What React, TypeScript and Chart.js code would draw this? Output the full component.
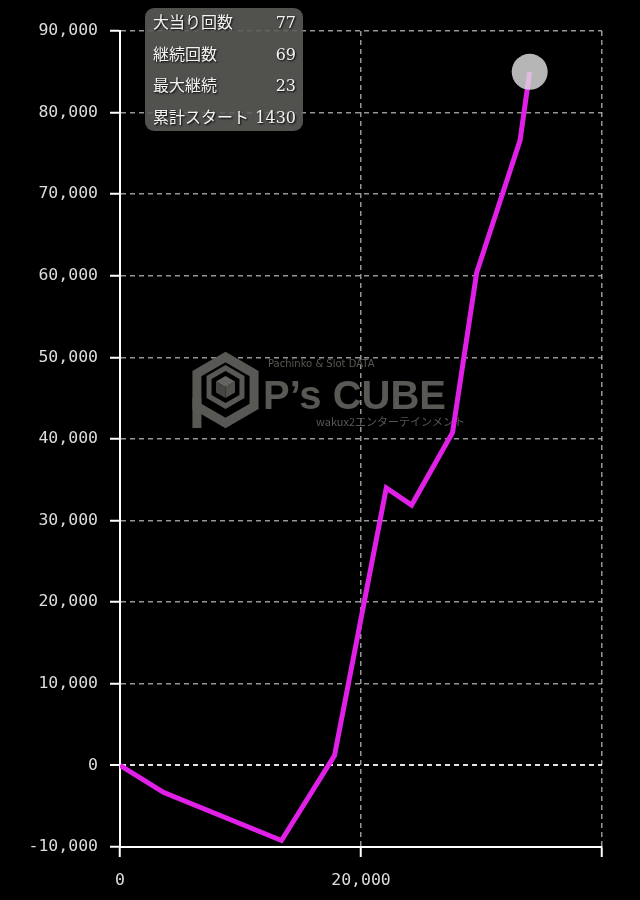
import { useEffect, useRef } from "react";
import { Chart, registerables } from "chart.js";

Chart.register(...registerables);

// Data (x: cumulative spins, y: balance)
const xValues = [0, 3600, 13400, 17800, 22100, 24200, 27600, 29600, 33200, 34000];
const yValues = [0, -3300, -9200, 1200, 34000, 31900, 40800, 60400, 76600, 85000];

const xMin = 0;
const xMax = 40000;
const xStep = 20000;
const yMin = -10000;
const yMax = 90000;
const yStep = 10000;

const infoLabels = ["大当り回数", "継続回数", "最大継続", "累計スタート"];
const infoValues = ["77", "69", "23", "1430"];

const watermarkTop = "Pachinko & Slot DATA";
const watermarkMain = "P’s CUBE";
const watermarkSub = "wakux2エンターテインメント";

const fmt = (v: number) => Number(v).toLocaleString("en-US");

const watermarkPlugin = {
  id: "watermark",
  beforeDatasetsDraw(chart: any) {
    const ctx: CanvasRenderingContext2D = chart.ctx;
    const color = "rgb(88,88,84)";
    ctx.save();
    const cx = 225.5;
    const cy = 390;
    const r = 33;
    const hex = (rad: number, ox: number, oy: number) => {
      ctx.beginPath();
      for (let i = 0; i < 6; i++) {
        const a = (Math.PI / 180) * (60 * i - 90);
        const px = ox + rad * Math.cos(a);
        const py = oy + rad * Math.sin(a);
        if (i === 0) ctx.moveTo(px, py);
        else ctx.lineTo(px, py);
      }
      ctx.closePath();
    };
    ctx.strokeStyle = color;
    ctx.lineWidth = 9;
    ctx.lineJoin = "miter";
    hex(r, cx, cy);
    ctx.stroke();
    ctx.lineWidth = 5;
    hex(19, cx, cy - 3);
    ctx.stroke();
    const cr = 11;
    const ccx = cx;
    const ccy = cy - 3;
    const pt = (i: number) => {
      const a = (Math.PI / 180) * (60 * i - 90);
      return [ccx + cr * Math.cos(a), ccy + cr * Math.sin(a)];
    };
    const faces: [number[], string][] = [
      [[0, 1, -1, 5], "rgb(100,100,96)"],
      [[1, 2, 3, -1], "rgb(80,80,76)"],
      [[3, 4, 5, -1], "rgb(70,70,66)"],
    ];
    faces.forEach(([idx, col]) => {
      ctx.beginPath();
      idx.forEach((k, j) => {
        const p = k < 0 ? [ccx, ccy] : pt(k);
        if (j === 0) ctx.moveTo(p[0], p[1]);
        else ctx.lineTo(p[0], p[1]);
      });
      ctx.closePath();
      ctx.fillStyle = col;
      ctx.fill();
    });
    ctx.fillStyle = color;
    ctx.fillRect(cx - r * 0.866 - 4.5, cy + 8, 9, 30);

    ctx.fillStyle = color;
    ctx.textBaseline = "alphabetic";
    ctx.textAlign = "left";
    ctx.font = '10px "DejaVu Sans"';
    ctx.fillText(watermarkTop, 268, 367);
    ctx.font = 'bold 40px "Liberation Sans"';
    ctx.fillText(watermarkMain, 263, 409);
    ctx.font = '11px "Noto Sans CJK JP"';
    ctx.fillText(watermarkSub, 316, 426);
    ctx.restore();
  },
};

export default function App() {
  const canvasRef = useRef<HTMLCanvasElement | null>(null);

  useEffect(() => {
    if (!canvasRef.current) return;
    const points = xValues.map((x, i) => ({ x, y: yValues[i] }));
    const lastIndex = points.length - 1;
    const tickFont = { family: '"DejaVu Sans Mono", monospace', size: 16.5 };
    const gridColor = "rgba(175,175,175,0.85)";
    const chart = new Chart(canvasRef.current, {
      type: "line",
      data: {
        datasets: [
          {
            data: points,
            borderColor: "#e020e6",
            borderWidth: 5,
            tension: 0,
            fill: false,
            pointRadius: (c: any) => (c.dataIndex === lastIndex ? 18 : 0),
            pointHoverRadius: (c: any) => (c.dataIndex === lastIndex ? 18 : 0),
            pointBackgroundColor: "rgba(222,222,222,0.82)",
            pointBorderWidth: 0,
            pointBorderColor: "rgba(0,0,0,0)",
          },
        ],
      },
      options: {
        responsive: false,
        animation: false,
        events: [],
        layout: { padding: { top: 31, right: 38, left: 0, bottom: 0 } },
        plugins: {
          legend: { display: false },
          tooltip: { enabled: false },
          title: { display: false },
        },
        scales: {
          x: {
            type: "linear",
            min: xMin,
            max: xMax,
            afterFit: (s: any) => {
              s.height = 53;
            },
            ticks: {
              stepSize: xStep,
              color: "#dcdcdc",
              font: tickFont,
              padding: 14,
              maxRotation: 0,
              callback: (v: any) => (Number(v) === xMax ? "" : fmt(v)),
            },
            grid: {
              color: gridColor,
              lineWidth: 1.5,
              tickLength: 10,
              tickColor: "#ffffff",
              tickWidth: 2,
            },
            border: { display: true, color: "#ffffff", width: 2, dash: [5, 4] },
          },
          y: {
            type: "linear",
            min: yMin,
            max: yMax,
            afterFit: (s: any) => {
              s.width = 120;
            },
            ticks: {
              stepSize: yStep,
              color: "#dcdcdc",
              font: tickFont,
              padding: 12,
              callback: (v: any) => fmt(v),
            },
            grid: {
              color: (c: any) =>
                c.tick && c.tick.value === 0 ? "rgba(240,240,240,0.95)" : gridColor,
              lineWidth: (c: any) => (c.tick && c.tick.value === 0 ? 2 : 1.5),
              tickLength: 10,
              tickColor: "#ffffff",
              tickWidth: 2,
            },
            border: { display: true, color: "#ffffff", width: 2, dash: [5, 4] },
          },
        },
      },
      plugins: [watermarkPlugin],
    } as any);
    return () => chart.destroy();
  }, []);

  return (
    <div
      style={{
        position: "fixed",
        left: 0,
        top: 0,
        width: 640,
        height: 900,
        background: "#000",
        overflow: "hidden",
      }}
    >
      <canvas ref={canvasRef} width={640} height={900} style={{ display: "block" }} />
      <div
        style={{
          position: "absolute",
          left: 145,
          top: 8,
          width: 158,
          height: 123,
          borderRadius: 9,
          background: "rgba(92,92,88,0.88)",
          boxSizing: "border-box",
          padding: "5px 7px 0 8px",
          fontFamily: '"DejaVu Serif", "Noto Sans CJK JP", serif',
          fontSize: 16,
          color: "#f4f4f4",
          textShadow: "1px 1px 2px #000",
        }}
      >
        {infoLabels.map((label, i) => (
          <div
            key={label}
            style={{
              display: "flex",
              justifyContent: "space-between",
              height: 31.7,
              lineHeight: "20px",
              whiteSpace: "nowrap",
            }}
          >
            <span>{label}</span>
            <span>{infoValues[i]}</span>
          </div>
        ))}
      </div>
    </div>
  );
}
